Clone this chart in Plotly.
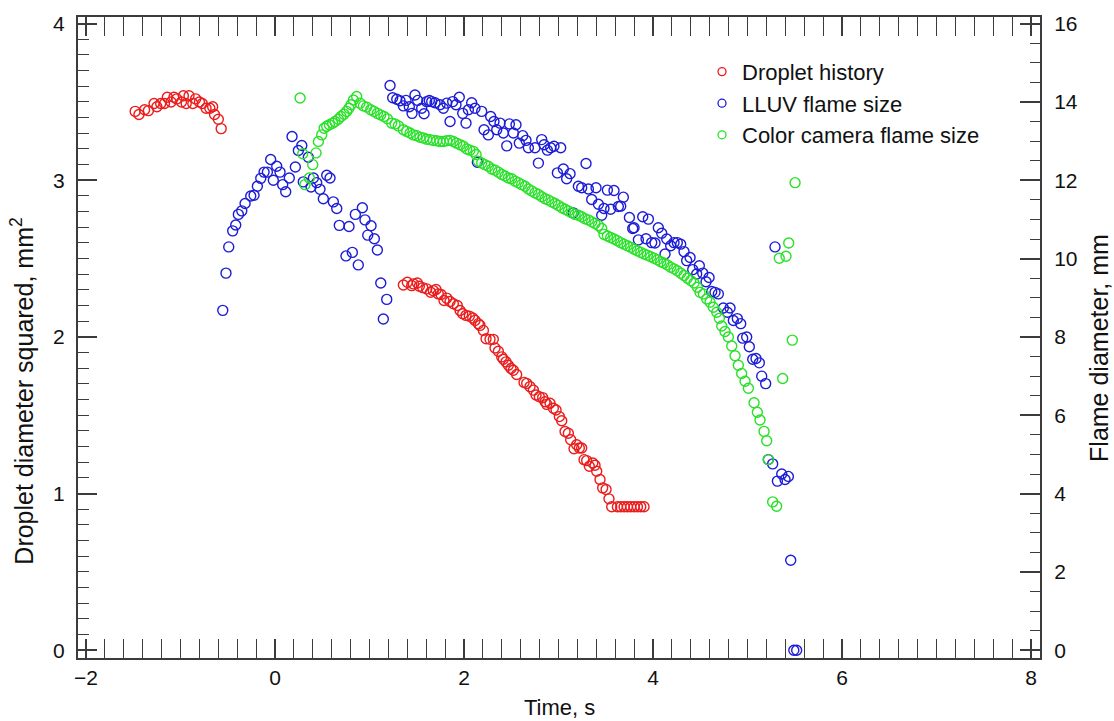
import plotly.graph_objects as go

# ---------------- data ----------------
# Droplet history: time (s) and droplet diameter squared (mm^2), left axis
droplet_t = [-1.48, -1.44, -1.38, -1.34, -1.28, -1.25, -1.21, -1.17, -1.14, -1.10,
             -1.07, -1.04, -0.99, -0.97, -0.94, -0.91, -0.87, -0.84, -0.80, -0.77,
             -0.73, -0.69, -0.66, -0.64, -0.60, -0.57,
             1.358, 1.400, 1.446, 1.464, 1.506, 1.527, 1.563, 1.605, 1.647, 1.675,
             1.704, 1.728, 1.757, 1.788, 1.817, 1.852, 1.887, 1.929, 1.958, 1.986,
             2.021, 2.056, 2.092, 2.116, 2.152, 2.169, 2.205, 2.233, 2.275, 2.310,
             2.328, 2.363, 2.399, 2.416, 2.444, 2.469, 2.497, 2.522, 2.557, 2.635,
             2.663, 2.698, 2.734, 2.762, 2.797, 2.832, 2.857, 2.875, 2.910, 2.945,
             2.974, 3.009, 3.034, 3.069, 3.104, 3.129, 3.164, 3.192, 3.220, 3.245,
             3.270, 3.298, 3.326, 3.362, 3.386, 3.404, 3.439, 3.467, 3.503, 3.534,
             3.563, 3.623, 3.658, 3.694, 3.729, 3.764, 3.800, 3.835, 3.870, 3.905]
droplet_d2 = [3.44, 3.42, 3.45, 3.445, 3.49, 3.47, 3.49, 3.49, 3.53, 3.50,
              3.53, 3.52, 3.50, 3.54, 3.49, 3.54, 3.49, 3.52, 3.50, 3.49,
              3.46, 3.46, 3.47, 3.42, 3.39, 3.33,
              2.332, 2.349, 2.328, 2.339, 2.345, 2.324, 2.315, 2.307, 2.286, 2.296,
              2.303, 2.275, 2.271, 2.233, 2.248, 2.227, 2.212, 2.201, 2.169, 2.148,
              2.138, 2.133, 2.121, 2.106, 2.085, 2.074, 2.042, 1.989, 1.985, 1.985,
              1.930, 1.909, 1.873, 1.858, 1.841, 1.820, 1.799, 1.788, 1.761, 1.710,
              1.704, 1.683, 1.661, 1.630, 1.619, 1.613, 1.587, 1.570, 1.577, 1.545,
              1.534, 1.492, 1.465, 1.397, 1.386, 1.344, 1.287, 1.312, 1.291, 1.291,
              1.217, 1.211, 1.175, 1.196, 1.181, 1.143, 1.090, 1.037, 1.027, 0.967,
              0.916, 0.916, 0.916, 0.916, 0.916, 0.916, 0.916, 0.916, 0.916, 0.916]

# LLUV flame size: time (s) and flame diameter (mm), right axis
lluv_t = [-0.553, -0.519, -0.490, -0.448, -0.416, -0.388, -0.352, -0.317, -0.257, -0.222,
          -0.187, -0.151, -0.116, -0.081, -0.046, -0.018, 0.018, 0.053, 0.081, 0.113,
          0.151, 0.180, 0.215, 0.247, 0.283, 0.299, 0.352, 0.381, 0.406, 0.441,
          0.476, 0.511, 0.547, 0.582, 0.617, 0.653, 0.680, 0.751, 0.783, 0.818,
          0.850, 0.881, 0.924, 0.952, 0.981, 1.016, 1.051, 1.083, 1.119, 1.146,
          1.182,
          1.217, 1.245, 1.288, 1.323, 1.358, 1.386, 1.421, 1.450, 1.481, 1.510,
          1.552, 1.577, 1.605, 1.633, 1.658, 1.693, 1.746, 1.781, 1.817, 1.852,
          1.880, 1.915, 1.950, 1.986, 2.021, 2.046, 2.081, 2.116, 2.141, 2.187,
          2.212, 2.257, 2.282, 2.317, 2.346, 2.381, 2.416, 2.452, 2.480, 2.522,
          2.550, 2.585, 2.621, 2.656, 2.681, 2.751, 2.787, 2.822, 2.847, 2.882,
          2.917, 2.952, 2.988, 3.023, 3.051, 3.086, 3.122, 3.157, 3.210, 3.245,
          3.291, 3.316, 3.351, 3.397, 3.422, 3.457, 3.481, 3.517, 3.552, 3.587,
          3.633, 3.658, 3.686, 3.750, 3.785, 3.799, 3.845, 3.891, 3.926, 3.951,
          3.986, 4.021, 4.056, 4.092, 4.127, 4.145, 4.187, 4.222, 4.257, 4.293,
          4.328, 4.356, 4.392, 4.420, 4.462, 4.490, 4.526, 4.561, 4.593, 4.621,
          4.656, 4.691, 4.744, 4.787, 4.815, 4.850, 4.892, 4.928, 4.949, 4.991,
          5.019, 5.055, 5.090, 5.125, 5.150, 5.192, 5.220, 5.266, 5.291, 5.316,
          5.362, 5.397, 5.432, 5.457, 5.490, 5.520]
lluv_mm = [8.68, 9.63, 10.30, 10.71, 10.86, 11.13, 11.22, 11.41, 11.60, 11.62,
           11.85, 12.05, 12.21, 12.21, 12.53, 12.00, 12.36, 12.21, 11.89, 11.71,
           12.06, 13.12, 12.34, 12.76, 12.89, 11.96, 12.59, 11.83, 12.06, 11.94,
           11.77, 11.53, 12.13, 12.06, 11.45, 11.28, 10.85, 10.07, 10.82, 10.16,
           11.13, 9.84, 11.30, 10.99, 10.60, 10.84, 10.51, 10.22, 9.38, 8.46,
           8.96,
           14.42, 14.11, 14.07, 14.03, 13.90, 14.04, 13.88, 13.71, 14.18, 14.04,
           13.84, 13.70, 14.01, 14.04, 14.01, 13.98, 13.93, 13.84, 13.97, 13.50,
           14.01, 13.93, 14.12, 13.71, 13.46, 13.80, 13.98, 13.84, 12.46, 13.76,
           13.29, 13.16, 13.63, 13.50, 13.29, 13.46, 13.21, 12.88, 13.44, 13.21,
           13.42, 12.95, 13.14, 13.02, 12.83, 12.83, 12.44, 13.04, 12.91, 12.77,
           12.83, 12.87, 12.19, 12.83, 12.29, 12.04, 12.17, 11.17, 11.85, 11.81,
           12.43, 11.78, 11.51, 11.81, 11.39, 11.11, 11.28, 11.75, 11.26, 11.74,
           11.33, 11.34, 11.57, 11.05, 10.77, 10.79, 10.48, 11.07, 10.51, 11.01,
           10.41, 10.40, 10.79, 10.65, 10.12, 10.50, 10.33, 10.41, 10.41, 10.37,
           10.18, 9.95, 10.03, 9.72, 9.61, 9.82, 9.63, 9.41, 9.52, 9.16,
           9.14, 9.10, 8.74, 8.63, 8.74, 8.42, 8.47, 8.34, 7.97, 8.00,
           7.75, 7.43, 7.45, 7.34, 7.00, 6.81, 4.87, 4.76, 10.30, 4.32,
           4.50, 4.36, 4.44, 2.30, 0.0, 0.0]

# Color camera flame size: time (s) and flame diameter (mm), right axis
camera_t = [0.265, 0.293, 0.317, 0.363, 0.399, 0.434, 0.459, 0.494, 0.519, 0.547,
            0.575, 0.610, 0.635, 0.670, 0.698, 0.730, 0.758, 0.783, 0.804, 0.829,
            0.864, 0.899, 0.935, 0.970, 1.012, 1.048, 1.083, 1.118, 1.153, 1.189,
            1.235, 1.270, 1.305,
            1.358, 1.393, 1.429, 1.464, 1.499, 1.534, 1.570, 1.605, 1.640, 1.675,
            1.711, 1.746, 1.781, 1.817, 1.852, 1.887, 1.922, 1.958, 1.993, 2.028,
            2.063, 2.099, 2.127, 2.152, 2.187, 2.222, 2.257, 2.293, 2.328, 2.363,
            2.399, 2.434, 2.469, 2.504, 2.540, 2.575, 2.610, 2.646, 2.681, 2.716,
            2.751, 2.787, 2.822, 2.857, 2.892, 2.928, 2.963, 2.998, 3.034, 3.069,
            3.104, 3.139, 3.175, 3.210, 3.245, 3.280, 3.316, 3.351, 3.386, 3.422,
            3.457, 3.481, 3.517, 3.552, 3.587, 3.623, 3.658, 3.693, 3.728, 3.764,
            3.799, 3.834, 3.870, 3.905, 3.940, 3.975, 4.011, 4.046, 4.081, 4.116,
            4.152, 4.187, 4.222, 4.257, 4.293, 4.328, 4.363, 4.399, 4.434, 4.469,
            4.497, 4.533, 4.568, 4.603, 4.638, 4.674, 4.702, 4.727, 4.762, 4.797,
            4.833, 4.868, 4.903, 4.938, 4.974, 5.009, 5.069, 5.104, 5.132, 5.175,
            5.203, 5.220, 5.266, 5.308, 5.336, 5.372, 5.407, 5.436, 5.474, 5.503]
camera_mm = [14.10, 12.68, 11.89, 12.06, 12.40, 12.70, 12.99, 13.16, 13.33, 13.38,
             13.42, 13.46, 13.50, 13.56, 13.63, 13.69, 13.76, 13.84, 13.93, 14.05,
             14.14, 13.97, 13.90, 13.87, 13.80, 13.76, 13.71, 13.67, 13.63, 13.57,
             13.46, 13.44, 13.39,
             13.29, 13.25, 13.21, 13.16, 13.14, 13.10, 13.08, 13.05, 13.04, 13.02,
             13.01, 12.99, 12.99, 13.01, 13.02, 12.99, 12.95, 12.91, 12.87, 12.80,
             12.77, 12.74, 12.66, 12.49, 12.44, 12.40, 12.36, 12.29, 12.26, 12.21,
             12.15, 12.11, 12.06, 12.04, 11.98, 11.94, 11.89, 11.85, 11.78, 11.73,
             11.68, 11.64, 11.58, 11.53, 11.50, 11.45, 11.41, 11.36, 11.30, 11.26,
             11.22, 11.17, 11.13, 11.11, 11.07, 11.02, 10.99, 10.94, 10.90, 10.85,
             10.77, 10.62, 10.58, 10.54, 10.50, 10.46, 10.41, 10.37, 10.33, 10.29,
             10.24, 10.20, 10.16, 10.12, 10.09, 10.05, 10.01, 9.97, 9.92, 9.89,
             9.84, 9.78, 9.74, 9.69, 9.63, 9.57, 9.50, 9.44, 9.38, 9.27,
             9.14, 9.10, 8.97, 8.89, 8.76, 8.63, 8.48, 8.28, 8.14, 8.00,
             7.77, 7.52, 7.28, 7.07, 6.87, 6.69, 6.32, 6.08, 5.88, 5.59,
             5.35, 4.87, 3.79, 3.68, 10.01, 6.94, 10.06, 10.40, 7.92, 11.94]

series_names = ["Droplet history", "LLUV flame size", "Color camera flame size"]
series_colors = ["rgb(235,28,28)", "rgb(28,28,215)", "rgb(40,225,40)"]

x_major = [-2, 0, 2, 4, 6, 8]
x_mid = [-1, 1, 3, 5, 7]
yl_major = [0, 1, 2, 3, 4]
yl_mid = [0.5, 1.5, 2.5, 3.5]
yr_major = [0, 2, 4, 6, 8, 10, 12, 14, 16]

# ---------------- figure ----------------
FONT = "Liberation Sans, Arial, sans-serif"
AX = "#3c3c3c"
TXT = "#111"
XR = [-2.085, 8.095]
YL = [-0.049, 4.0425]
YR = [-0.196, 16.17]

fig = go.Figure()
mk = dict(symbol="circle-open", size=10, line=dict(width=1.4))

fig.add_trace(go.Scatter(x=droplet_t, y=droplet_d2, mode="markers", showlegend=False,
                         marker=dict(mk, color=series_colors[0]), yaxis="y", cliponaxis=False))
fig.add_trace(go.Scatter(x=lluv_t, y=lluv_mm, mode="markers", showlegend=False,
                         marker=dict(mk, color=series_colors[1]), yaxis="y2", cliponaxis=False))
fig.add_trace(go.Scatter(x=camera_t, y=camera_mm, mode="markers", showlegend=False,
                         marker=dict(mk, color=series_colors[2]), yaxis="y2", cliponaxis=False))
for name, col in zip(series_names, series_colors):
    fig.add_trace(go.Scatter(x=[None], y=[None], mode="markers", name=name,
                             marker=dict(symbol="circle-open", size=8, color=col, line=dict(width=1.3))))

fig.update_layout(
    width=1114, height=721,
    margin=dict(l=78, r=74, t=13, b=63),
    paper_bgcolor="white", plot_bgcolor="white",
    font=dict(family=FONT, size=20, color=TXT),
    showlegend=True,
    legend=dict(x=(702 - 78) / 962, y=1 - (47 - 13) / 645, xanchor="left", yanchor="top",
                bgcolor="rgba(255,255,255,0)", font=dict(size=22, family=FONT, color=TXT),
                itemwidth=30, tracegroupgap=0),
    xaxis=dict(range=XR, tickmode="array", tickvals=x_major, ticks="inside", ticklen=19,
               tickwidth=1.5, tickcolor=AX, showline=True, linecolor=AX, linewidth=2,
               mirror="allticks", showgrid=False, zeroline=False, ticklabelstandoff=0,
               tickfont=dict(size=21, family=FONT, color=TXT),
               minor=dict(tickmode="linear", tick0=0, dtick=0.2, ticks="inside", ticklen=9,
                          tickwidth=1.3, tickcolor=AX, showgrid=False)),
    xaxis3=dict(range=XR, overlaying="x", anchor="y", tickmode="array", tickvals=x_mid,
                ticks="inside", ticklen=14, tickwidth=1.3, tickcolor=AX, showline=False,
                mirror="ticks", showticklabels=False, showgrid=False, zeroline=False),
    yaxis=dict(range=YL, tickmode="array", tickvals=yl_major, ticks="inside", ticklen=19,
               tickwidth=1.5, tickcolor=AX, showline=True, linecolor=AX, linewidth=2,
               showgrid=False, zeroline=False, ticklabelstandoff=7,
               tickfont=dict(size=21, family=FONT, color=TXT),
               minor=dict(tickmode="linear", tick0=0, dtick=0.1, ticks="inside", ticklen=11,
                          tickwidth=1.3, tickcolor=AX, showgrid=False)),
    yaxis3=dict(range=YL, overlaying="y", anchor="x", side="left", tickmode="array",
                tickvals=yl_mid, ticks="inside", ticklen=15, tickwidth=1.3, tickcolor=AX,
                showline=False, showticklabels=False, showgrid=False, zeroline=False),
    yaxis2=dict(range=YR, overlaying="y", side="right", anchor="x", tickmode="array",
                tickvals=yr_major, ticks="inside", ticklen=20, tickwidth=1.5, tickcolor=AX,
                showline=True, linecolor=AX, linewidth=2, showgrid=False, zeroline=False,
                ticklabelstandoff=8, tickfont=dict(size=21, family=FONT, color=TXT),
                minor=dict(tickmode="linear", tick0=0, dtick=0.5, ticks="inside", ticklen=10,
                           tickwidth=1.3, tickcolor=AX, showgrid=False)),
    annotations=[
        dict(text="Time, s", xref="paper", yref="paper", x=0.5, y=-(708 - 658) / 645,
             xanchor="center", yanchor="middle", showarrow=False,
             font=dict(size=22, family=FONT, color=TXT)),
        dict(text="Droplet diameter squared, mm<sup>2</sup>", xref="paper", yref="paper",
             x=-(78 - 22) / 962, y=1 - (390 - 13) / 645, xanchor="center", yanchor="middle",
             textangle=-90, showarrow=False, font=dict(size=25, family=FONT, color=TXT)),
        dict(text="Flame diameter, mm", xref="paper", yref="paper",
             x=1 + (1099 - 1040) / 962, y=1 - (346 - 13) / 645, xanchor="center",
             yanchor="middle", textangle=-90, showarrow=False,
             font=dict(size=25, family=FONT, color=TXT)),
    ],
)

fig.write_html("out.html")
